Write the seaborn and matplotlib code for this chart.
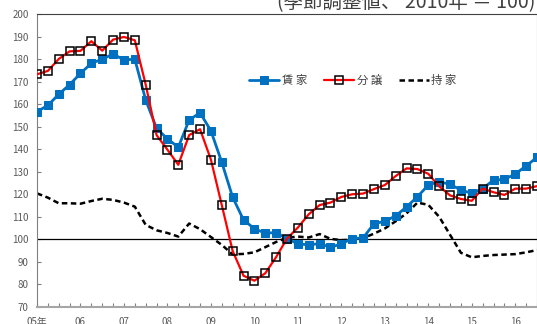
import matplotlib
matplotlib.use("Agg")
import matplotlib.pyplot as plt
import seaborn as sns
import pandas as pd
import numpy as np

# ---- data (quarterly, 2005 Q1 .. 2016 Q3) ----
rental = [156.7, 159.5, 164.4, 168.7, 173.7, 178.2, 180.0, 182.3, 179.7, 180.0,
          161.9, 149.3, 144.6, 140.9, 153.0, 156.2, 148.2, 134.2, 118.7, 108.6,
          104.7, 102.7, 103.0, 100.3, 98.0, 97.5, 98.1, 96.4, 98.0, 100.3,
          100.6, 106.9, 108.0, 110.4, 114.4, 118.9, 124.1, 125.6, 124.4, 121.9,
          120.4, 122.5, 126.3, 126.6, 129.0, 132.6, 136.4]
condo = [173.3, 174.8, 180.1, 183.5, 183.7, 188.0, 183.8, 188.7, 189.9, 188.4,
         168.7, 146.3, 139.8, 133.1, 146.3, 148.9, 135.4, 115.2, 94.8, 83.8,
         81.6, 84.9, 92.1, 100.3, 105.2, 111.1, 115.2, 116.3, 118.8, 120.0,
         120.3, 122.3, 124.1, 128.1, 131.5, 131.2, 129.1, 123.5, 119.5, 117.9,
         117.1, 122.5, 120.9, 119.7, 122.5, 122.5, 123.6]
owner = [120.4, 118.5, 116.0, 116.0, 115.8, 117.0, 118.0, 117.5, 116.3, 114.5,
         106.4, 104.0, 102.8, 101.2, 107.0, 104.5, 101.0, 97.5, 93.3, 93.5,
         94.2, 96.5, 98.8, 100.7, 101.2, 100.8, 102.3, 100.2, 99.6, 99.8,
         100.5, 102.5, 104.8, 108.0, 111.5, 116.3, 115.3, 110.0, 102.0, 94.0,
         92.0, 92.6, 93.0, 93.2, 93.4, 94.2, 95.2]
series_names = ["賃 家", "分 譲", "持 家"]
year_labels = ["05年", "06", "07", "08", "09", "10", "11", "12", "13", "14", "15", "16"]
yticks = list(range(70, 201, 10))
title_text = "(季節調整値、 2010年 ＝ 100)"

q = np.arange(len(rental))
df = pd.DataFrame({"q": q, "rental": rental, "condo": condo, "owner": owner})

sns.set_theme(style="white")
plt.rcParams["font.family"] = ["Noto Sans CJK JP", "DejaVu Sans"]

fig = plt.figure(figsize=(5.37, 3.24), dpi=100)
ax = fig.add_axes([37 / 537, 17.2 / 324, 500 / 537, 292.6 / 324])

ax.axhline(100, color="black", lw=0.9, zorder=1)

sns.lineplot(data=df, x="q", y="rental", ax=ax, color="#0070C0", lw=2.0,
             marker="s", markersize=5.5, markerfacecolor="#0070C0",
             markeredgecolor="#0070C0", label=series_names[0], zorder=3)
sns.lineplot(data=df, x="q", y="condo", ax=ax, color="#FF0000", lw=1.6,
             marker="s", markersize=5.8, markerfacecolor="none",
             markeredgecolor="black", markeredgewidth=1.1,
             label=series_names[1], zorder=4)
sns.lineplot(data=df, x="q", y="owner", ax=ax, color="black", lw=1.8,
             label=series_names[2], zorder=2)
ax.lines[-1].set_dashes((2.2, 1.4))

ax.set_xlim(0, len(rental) - 1)
ax.set_ylim(70, 200)
ax.set_yticks(yticks)
ax.set_xticks(q, minor=True)
ax.set_xticks(np.arange(0, 4 * len(year_labels), 4))
ax.set_xticklabels(year_labels)
ax.set_xlabel("")
ax.set_ylabel("")

ax.tick_params(axis="y", direction="in", length=3, width=0.8, color="#808080",
               labelsize=7, labelcolor="#595959", pad=6, left=True)
ax.tick_params(axis="x", which="both", direction="in", length=3, width=0.8,
               color="#808080", bottom=True)
ax.tick_params(axis="x", which="major", labelsize=7, labelcolor="#595959", pad=7)

for side in ["left", "top", "right"]:
    ax.spines[side].set_color("#808080")
    ax.spines[side].set_linewidth(0.8)
ax.spines["top"].set_color("#404040")
ax.spines["bottom"].set_color("#a6a6a6")
ax.spines["bottom"].set_linewidth(1.5)

leg = ax.legend(loc="center", bbox_to_anchor=(353 / 537, 1 - 80 / 324),
                bbox_transform=fig.transFigure, ncol=3, frameon=False,
                fontsize=8.2, handlelength=2.6, handletextpad=0.25,
                columnspacing=1.5)
for t in leg.get_texts():
    t.set_color("#404040")

fig.text(535 / 537, 1 - 8 / 324, title_text, ha="right", va="baseline",
         fontsize=14, color="#404040")

fig.savefig("out.png", dpi=100)
